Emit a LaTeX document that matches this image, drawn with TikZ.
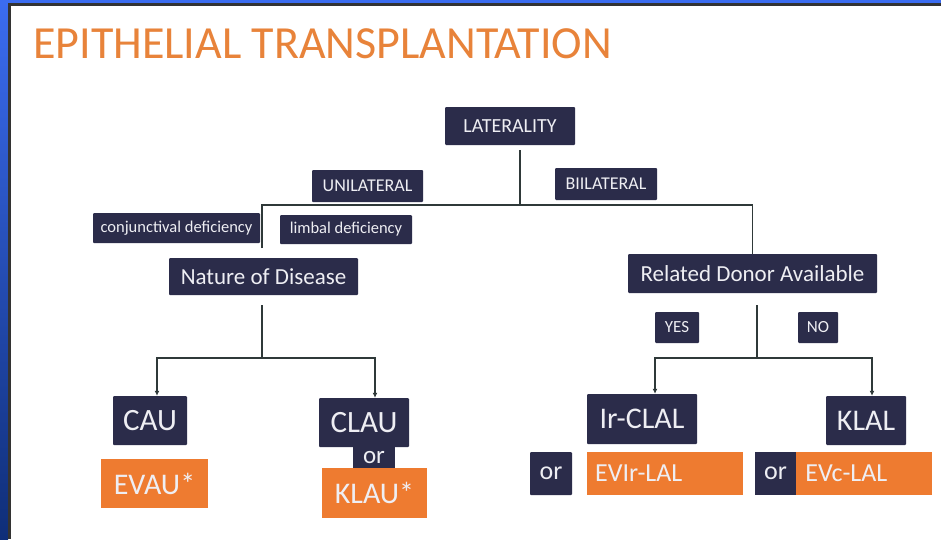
\documentclass[tikz,border=0pt]{standalone}
\usepackage{fontspec}
\setmainfont{Carlito}
\usetikzlibrary{arrows.meta,calc}
\usetikzlibrary{positioning}
\definecolor{navy}{HTML}{2B2C4A}
\definecolor{orng}{HTML}{EE7B30}
\definecolor{ttl}{HTML}{E8833A}
\definecolor{txt}{HTML}{EEEEF3}
\definecolor{lnk}{HTML}{2F3939}
\definecolor{edgeblue}{HTML}{3B6CF0}
\definecolor{edgedark}{HTML}{0F2E78}
\newcommand{\fsz}[1]{\fontsize{#1}{#1}\selectfont}
\tikzstyle{ndbox} = [fill=navy, text=txt, shape=rectangle, rounded corners=1pt, inner sep=0pt, align=center]
\tikzstyle{ndorg} = [fill=orng, text=txt, shape=rectangle, inner sep=0pt, align=center]
\tikzstyle{lnplain} = [style={line width=1.6pt,lnk}]
\tikzstyle{lnarr} = [style={->,>={Latex[length=5pt,width=5pt]},line width=1.4pt,lnk}]

\begin{document}
\begin{tikzpicture}[x=1pt,y=-1pt]
	\useasboundingbox (0,0) rectangle (941,539);
	% slide frame
	\fill[white] (0,0) rectangle (941,539);
	\shade[top color=edgeblue, bottom color=edgedark] (0,0) rectangle (8,539);
	\fill[edgeblue] (0,0) rectangle (941,3);
	\fill[black!80] (8,3) rectangle (941,6);
	\fill[black!80] (8,3) rectangle (10.5,539);
	\node[anchor=base west, inner sep=0pt, text=ttl] (title) at (33,58) {\fsz{46}EPITHELIAL TRANSPLANTATION};
	% top level
	\node[ndbox, minimum width=130, minimum height=38] (lat) at (510,126) {\fsz{20}LATERALITY};
	\node[ndbox, minimum width=111, minimum height=32] (uni) at (367.5,186) {\fsz{18}UNILATERAL};
	\node[ndbox, minimum width=102, minimum height=32] (bil) at (606,184) {\fsz{18}BIILATERAL};
	\node[ndbox, minimum width=167, minimum height=30] (conj) at (176.5,228) {\fsz{16.5}conjunctival deficiency};
	\node[ndbox, minimum width=132, minimum height=29] (limb) at (346,229.5) {\fsz{16.5}limbal deficiency};
	\node[ndbox, minimum width=189, minimum height=37] (nat) at (263.5,276.5) {\fsz{23}Nature of Disease};
	\node[ndbox, minimum width=249, minimum height=39] (don) at (752.5,273.5) {\fsz{23}Related Donor Available};
	\node[ndbox, minimum width=44, minimum height=31] (yes) at (677,327.5) {\fsz{17}YES};
	\node[ndbox, minimum width=40, minimum height=31] (no) at (818,327.5) {\fsz{17}NO};
	% unilateral outcomes
	\node[ndbox, minimum width=74, minimum height=49] (cau) at (150,420.5) {\fsz{31}CAU};
	\node[ndorg, minimum width=107, minimum height=49] (evau) at (154.5,483.5) {\fsz{30}EVAU*};
	\node[ndbox, minimum width=90, minimum height=49] (clau) at (364,422.5) {\fsz{31}CLAU};
	\node[ndbox, rounded corners=0pt, minimum width=42, minimum height=22] (or1) at (374,457.5) {\fsz{25}or};
	\node[ndorg, minimum width=105, minimum height=50] (klau) at (374.5,493) {\fsz{30}KLAU*};
	% bilateral outcomes
	\node[ndbox, minimum width=110, minimum height=50] (irclal) at (642,419) {\fsz{30}Ir-CLAL};
	\node[ndbox, minimum width=80, minimum height=49] (klal) at (866,420.5) {\fsz{30}KLAL};
	\node[ndbox, minimum width=42, minimum height=43] (or2) at (551,473.5) {\fsz{26}or};
	\node[ndorg, anchor=west, text width=140, inner xsep=8, minimum height=43, align=left] (evir) at (587,473.5) {\fsz{26}EVIr-LAL};
	\node[ndbox, rounded corners=0pt, minimum width=41, minimum height=43] (or3) at (775.5,473.5) {\fsz{26}or};
	\node[ndorg, anchor=west, text width=118, inner xsep=9, minimum height=43, align=left] (evc) at (or3.east) {\fsz{26}EVc-LAL};
	% connectors
	\coordinate (jt) at (520,205);
	\coordinate (jl) at (262,205);
	\coordinate (jl2) at (262,248);
	\coordinate (jn) at (262,358);
	\coordinate (jd) at (757,358);
	\draw[lnplain, shorten <=5pt] (lat.south -| jt) -- (jt);
	\draw[lnplain] (jl2) -- (jl) -- (jt) -| (don.north);
	\draw[lnplain, shorten <=10pt] (nat.south -| jn) -- (jn);
	\draw[lnarr] (jn) -| ([xshift=7pt]cau.north);
	\draw[lnarr] (jn) -| ([xshift=11pt]clau.north);
	\draw[lnplain, shorten <=12pt] (don.south -| jd) -- (jd);
	\draw[lnarr] (jd) -| ([xshift=13pt]irclal.north);
	\draw[lnarr] (jd) -| ([xshift=6pt]klal.north);
\end{tikzpicture}
\end{document}
